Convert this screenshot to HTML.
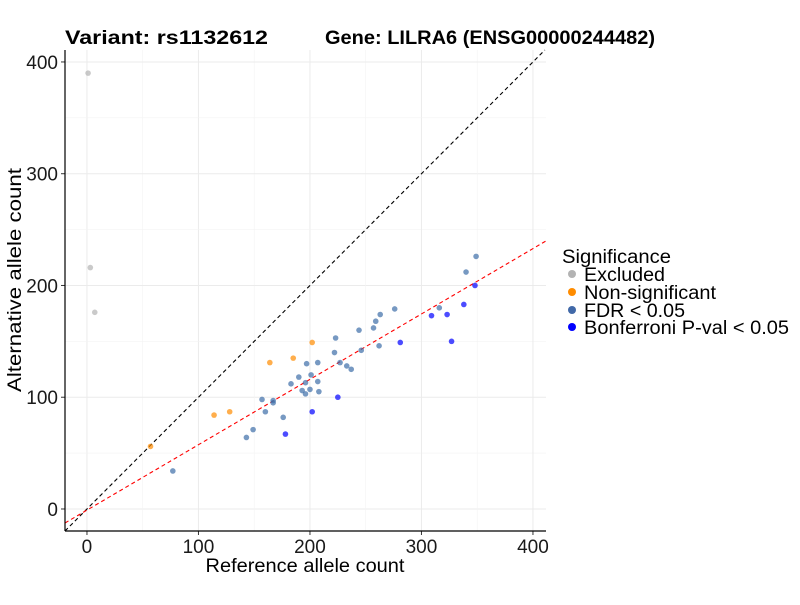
<!DOCTYPE html>
<html><head><meta charset="utf-8"><style>
body{margin:0;background:#fff;font-family:"Liberation Sans",sans-serif;}
svg text{font-family:"Liberation Sans",sans-serif;}
</style></head><body>
<svg id="chart" width="800" height="600">
<text x="65" y="44" font-size="19" font-weight="bold" textLength="203" lengthAdjust="spacingAndGlyphs">Variant: rs1132612</text>
<text x="325" y="44" font-size="19" font-weight="bold" textLength="330" lengthAdjust="spacingAndGlyphs">Gene: LILRA6 (ENSG00000244482)</text>
<g id="grid"></g><g id="lines"></g><g id="pts"></g><g id="axes"></g>
<text x="305" y="572" font-size="19" text-anchor="middle" textLength="199" lengthAdjust="spacingAndGlyphs">Reference allele count</text>
<text transform="translate(21,280) rotate(-90)" font-size="19" text-anchor="middle" textLength="224" lengthAdjust="spacingAndGlyphs">Alternative allele count</text>
<g>
<text x="562" y="263" font-size="19" textLength="109" lengthAdjust="spacingAndGlyphs">Significance</text>
<g><circle cx="572" cy="274" r="4" fill="#b3b3b3"/><text x="584" y="281" font-size="19" textLength="81" lengthAdjust="spacingAndGlyphs">Excluded</text></g>
<g><circle cx="572" cy="292" r="4" fill="#ff8c00"/><text x="584" y="299" font-size="19" textLength="132" lengthAdjust="spacingAndGlyphs">Non-significant</text></g>
<g><circle cx="572" cy="310" r="4" fill="#4169a8"/><text x="584" y="317" font-size="19" textLength="101" lengthAdjust="spacingAndGlyphs">FDR &lt; 0.05</text></g>
<g><circle cx="572" cy="327" r="4" fill="#0000ff"/><text x="584" y="334" font-size="19" textLength="205" lengthAdjust="spacingAndGlyphs">Bonferroni P-val &lt; 0.05</text></g>
</g>
</svg>
<script>
const ticks=[0,100,200,300,400];
const excludedX=[1,3,7], excludedY=[390,216,176];
const nonsigX=[57,114,128,164,185,202], nonsigY=[56,84,87,131,135,149];
const fdrX=[77,143,149,157,160,167,167,176,183,190,193,196,196,197,200,201,207,207,208,223,222,227,233,237,244,246,257,259,263,262,276,316,340,349];
const fdrY=[34,64,71,98,87,97,95,82,112,118,106,113,103,130,107,120,131,114,105,153,140,131,128,125,160,142,162,168,174,146,179,180,212,226];
const bonfX=[178,202,225,281,309,323,327,338,348];
const bonfY=[67,87,100,149,173,174,150,183,200];
const fitIntercept=-1, fitSlope=0.585;
const L=65,R=546,T=50,B=531,xmin=-19.7,xmax=411.7,ymin=-19.7,ymax=410.7;
const sx=v=>L+(v-xmin)/(xmax-xmin)*(R-L), sy=v=>B-(v-ymin)/(ymax-ymin)*(B-T);
const NS="http://www.w3.org/2000/svg";
function mk(p,t,a){const e=document.createElementNS(NS,t);for(const k in a)e.setAttribute(k,a[k]);p.appendChild(e);return e;}
const grid=document.getElementById('grid'),axes=document.getElementById('axes'),lines=document.getElementById('lines'),pts=document.getElementById('pts');
ticks.forEach((t,i)=>{
 const g1=mk(grid,'line',{x1:sx(t),x2:sx(t),y1:T,y2:B,stroke:'#ebebeb','stroke-width':1});
 
 const g2=mk(grid,'line',{x1:L,x2:R,y1:sy(t),y2:sy(t),stroke:'#ebebeb','stroke-width':1});
 
 if(i<ticks.length-1){const m=(t+ticks[i+1])/2;
  mk(grid,'line',{x1:sx(m),x2:sx(m),y1:T,y2:B,stroke:'#f3f3f3','stroke-width':0.6});
  mk(grid,'line',{x1:L,x2:R,y1:sy(m),y2:sy(m),stroke:'#f3f3f3','stroke-width':0.6});}
 const xl=mk(axes,'text',{x:sx(t),y:B+22,'font-size':19,'text-anchor':'middle',fill:'#1a1a1a'});xl.textContent=t;
 
 mk(axes,'line',{x1:sx(t),x2:sx(t),y1:B,y2:B+4,stroke:'#333'});
 const yl=mk(axes,'text',{x:L-7,y:sy(t)+7,'font-size':19,'text-anchor':'end',fill:'#1a1a1a'});yl.textContent=t;
 
 mk(axes,'line',{x1:L-4,x2:L,y1:sy(t),y2:sy(t),stroke:'#333'});
});
const xa=mk(axes,'line',{x1:L,x2:R,y1:B,y2:B,stroke:'#000','stroke-width':1.2});

const ya=mk(axes,'line',{x1:L,x2:L,y1:T,y2:B,stroke:'#000','stroke-width':1.2});

const id=mk(lines,'line',{x1:sx(xmin),y1:sy(xmin),x2:sx(ymax),y2:sy(ymax),stroke:'#000','stroke-dasharray':'4,3','stroke-width':1.1});

const fy=x=>fitIntercept+fitSlope*x;
const fl=mk(lines,'line',{x1:sx(xmin),y1:sy(fy(xmin)),x2:sx(xmax),y2:sy(fy(xmax)),stroke:'#ff0000','stroke-dasharray':'4,3','stroke-width':1.1});

function series(X,Y,col,name){X.forEach((x,i)=>{
 const c=mk(pts,'circle',{cx:sx(x),cy:sy(Y[i]),r:2.8,fill:col,'fill-opacity':0.7});
 
 });}
series(excludedX,excludedY,'#b3b3b3','point-excluded');
series(nonsigX,nonsigY,'#ff8c00','point-non-significant');
series(fdrX,fdrY,'#3d6ea8','point-fdr');
series(bonfX,bonfY,'#0000ff','point-bonferroni');
</script>
</body></html>
